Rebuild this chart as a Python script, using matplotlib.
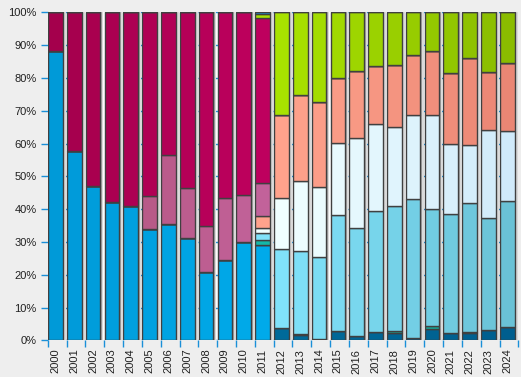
import matplotlib
matplotlib.use('Agg')
from matplotlib import pyplot as plt
from matplotlib.colors import to_rgb
import numpy as np

plt.rcParams['font.family'] = ['Liberation Sans', 'DejaVu Sans']

# Data (share of total, %), bottom to top
years = [str(y) for y in range(2000, 2025)]

blue     = [88.3, 57.8, 47.1, 42.1, 41.0, 34.0, 35.4, 31.1, 20.7, 24.4, 30.1, 29.0,
            0, 0, 0, 0, 0, 0, 0, 0, 0, 0, 0, 0, 0]
darkblue = [0, 0, 0, 0, 0, 0, 0, 0, 0, 0, 0, 0,
            3.8, 1.7, 0.5, 2.7, 1.3, 2.4, 2.3, 0.7, 3.4, 2.1, 2.1, 3.0, 4.0]
teal     = [0, 0, 0, 0, 0, 0, 0, 0, 0, 0, 0, 1.6,
            0, 0.3, 0, 0, 0, 0, 0.4, 0, 1.0, 0, 0.3, 0, 0]
lightblue = [0, 0, 0, 0, 0, 0, 0, 0, 0, 0, 0, 2.0,
             24.2, 25.3, 24.8, 35.4, 33.1, 36.9, 38.2, 42.3, 35.5, 36.3, 39.4, 34.2, 38.4]
white    = [0, 0, 0, 0, 0, 0, 0, 0, 0, 0, 0, 1.8,
            15.3, 21.2, 21.6, 22.0, 27.2, 26.6, 24.3, 25.6, 28.7, 21.4, 17.7, 26.8, 21.3]
salmon   = [0, 0, 0, 0, 0, 0, 0, 0, 0, 0, 0, 3.5,
            25.3, 26.2, 25.7, 19.8, 20.4, 17.9, 18.9, 18.3, 19.5, 21.6, 26.6, 17.7, 20.8]
mauve    = [0, 0, 0, 0, 0, 10.1, 21.0, 15.4, 14.2, 18.9, 14.1, 10.0,
            0, 0, 0, 0, 0, 0, 0, 0, 0, 0, 0, 0, 0]
magenta  = [11.7, 42.2, 52.9, 57.9, 59.0, 55.9, 43.6, 53.5, 65.1, 56.7, 55.8, 50.4,
            0, 0, 0, 0, 0, 0, 0, 0, 0, 0, 0, 0, 0]
green    = [0, 0, 0, 0, 0, 0, 0, 0, 0, 0, 0, 1.3,
            31.4, 25.3, 27.4, 20.1, 18.0, 16.2, 15.9, 13.1, 11.9, 18.6, 13.9, 18.3, 15.5]
topblue  = [0, 0, 0, 0, 0, 0, 0, 0, 0, 0, 0, 0.4,
            0, 0, 0, 0, 0, 0, 0, 0, 0, 0, 0, 0, 0]

series = [blue, darkblue, teal, lightblue, white, salmon, mauve, magenta, green, topblue]
# colour at first / last bar of each series (light shading)
colors = [('#009ad8', '#00aaea'), ('#006a9a', '#005e8e'), ('#14b8a8', '#10a898'),
          ('#80e2fa', '#6ac2d6'), ('#f0ffff', '#d0eafa'), ('#ffa28c', '#ea8674'),
          ('#b85a88', '#c2629a'), ('#a4004c', '#be005e'), ('#a8e200', '#8abc00'),
          ('#1890d0', '#1890d0')]

fig = plt.figure(figsize=(5.21, 3.77), dpi=100, facecolor='#eeeeee')
ax = fig.add_axes([0.0916, 0.0973, 0.9034, 0.8697])
ax.set_facecolor('#fcfcfc')

x = np.arange(len(years))
w = 0.78
total = np.sum(series, axis=0)

# shadows
ax.bar(x + 0.16, total, w, color='#dadada', zorder=1)
ax.bar(x + 0.08, total, w, color='#a8a8a8', zorder=1)

bottom = np.zeros(len(years))
for vals, (c0, c1) in zip(series, colors):
    vals = np.array(vals)
    nz = np.nonzero(vals)[0]
    lo, hi = nz.min(), nz.max()
    if lo == 11 and hi > 11:
        lo = 12
    t = np.clip((x - lo) / max(hi - lo, 1), 0, 1)
    a, b = np.array(to_rgb(c0)), np.array(to_rgb(c1))
    cols = [tuple(a + (b - a) * ti) for ti in t]
    ax.bar(x, vals, w, bottom=bottom, color=cols, edgecolor='#404040',
           linewidth=1.0, zorder=2)
    bottom += vals

ax.set_ylim(0, 100)
ax.set_xlim(-0.41, len(years) - 0.41)
ax.set_yticks(np.arange(0, 101, 10))
ax.set_yticklabels([f'{v}%' for v in range(0, 101, 10)])
ax.yaxis.grid(True, color='#1a8fd8', linestyle=(0, (2, 4)), linewidth=1.0, zorder=0)
ax.set_axisbelow(True)

ax.set_xticks(x)
ax.set_xticklabels(years, rotation=90)
ax.set_xticks(np.arange(len(years) + 1) - 0.41, minor=True)
ax.tick_params(axis='x', which='major', length=0, pad=6)
ax.tick_params(axis='x', which='minor', length=5, color='#1a8fd8', width=1)
ax.tick_params(axis='y', length=5, color='#1a8fd8', width=1, pad=3)
ax.tick_params(labelsize=8, labelcolor='#202020')

for s in ax.spines.values():
    s.set_visible(False)

fig.savefig('out.png', dpi=100, facecolor=fig.get_facecolor())
